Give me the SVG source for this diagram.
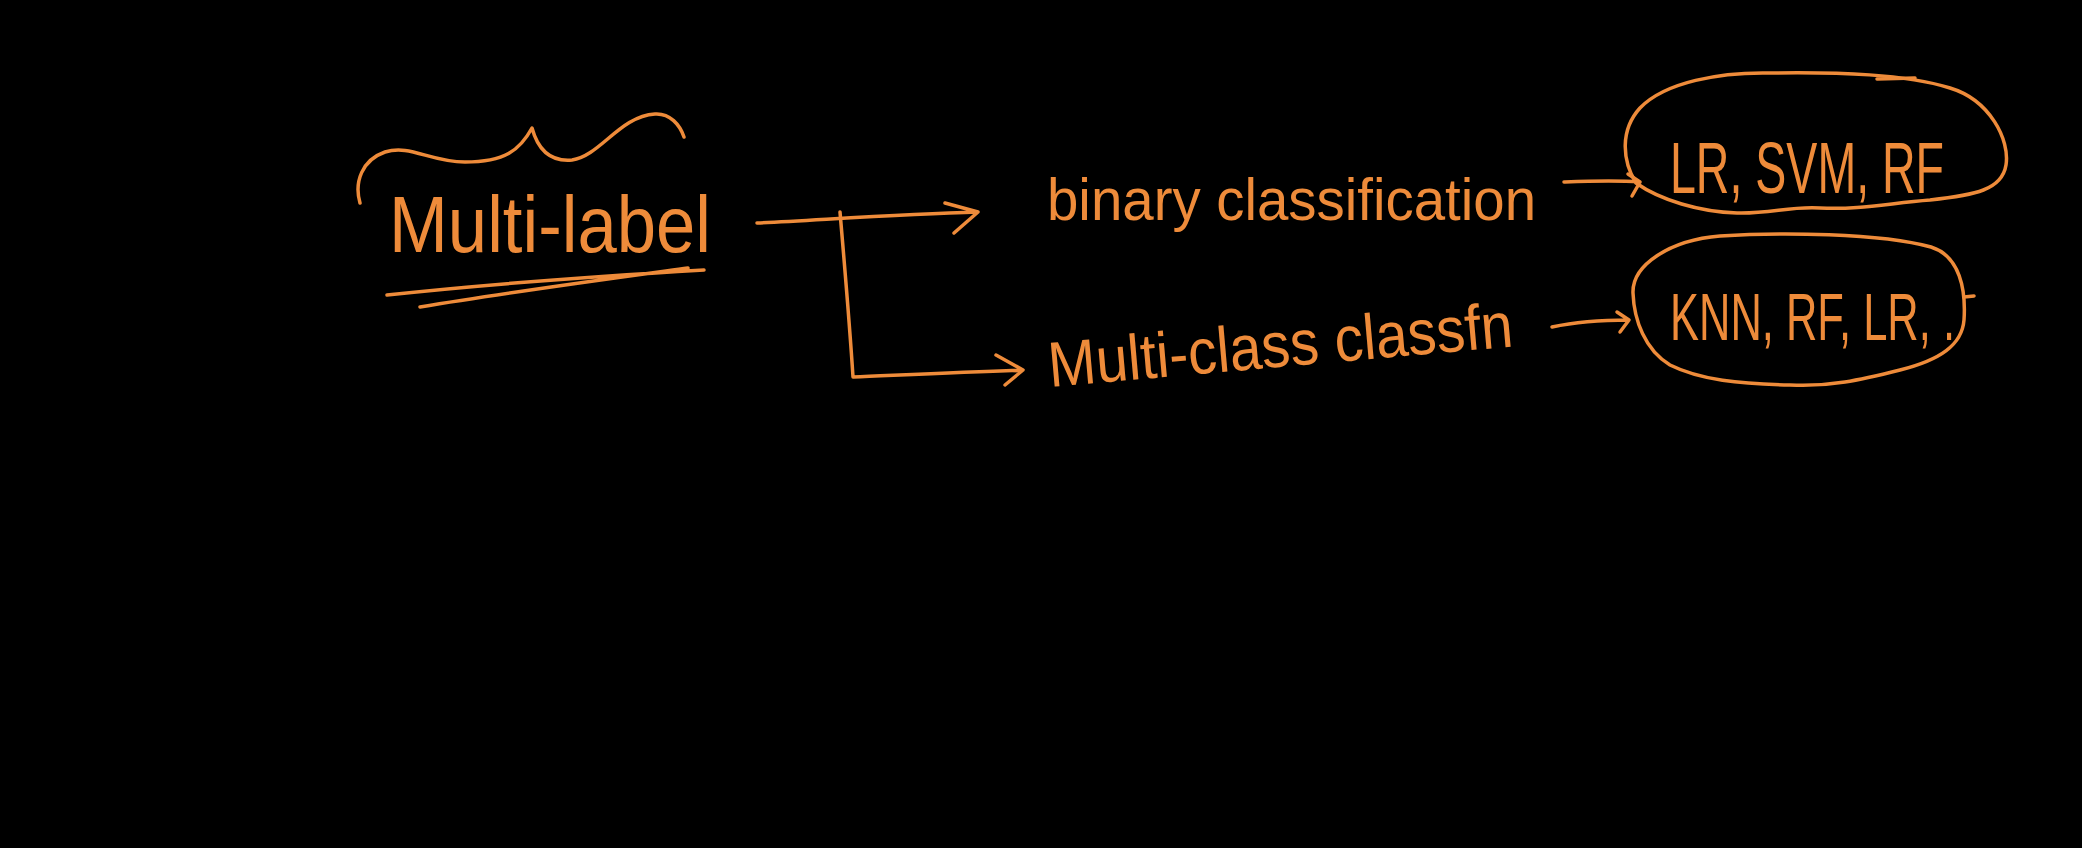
<svg xmlns="http://www.w3.org/2000/svg" width="2082" height="848" viewBox="0 0 2082 848">
<style>
.ink{fill:none;stroke:#EE8B3A;stroke-width:3.5;stroke-linecap:round;stroke-linejoin:round}
.hw{fill:#EE8B3A;font-family:"Liberation Sans","DejaVu Sans",sans-serif;font-weight:normal}
</style>
<rect x="0" y="0" width="2082" height="848" fill="#000"/>
<g id="node-multilabel">
<path class="ink" d="M360,203 C354,182 362,160 385,152 C410,144 430,162 465,162 C505,162 520,150 532,128 C538,150 550,162 572,160 C600,156 620,116 655,114 C670,113 680,125 684,137"/>
<text class="hw" x="389" y="252" font-size="80" textLength="322" lengthAdjust="spacingAndGlyphs">Multi-label</text>
<path class="ink" d="M387,295 C480,285 600,276 704,270 M420,307 C510,292 600,280 688,268"/>
</g>
<g id="node-binary">
<text class="hw" x="1047" y="220" font-size="60" textLength="489" lengthAdjust="spacingAndGlyphs">binary classification</text>
</g>
<g id="node-multiclass">
<text class="hw" x="1050" y="387" font-size="64" textLength="466" lengthAdjust="spacingAndGlyphs" transform="rotate(-5 1050 387)">Multi-class classfn</text>
</g>
<g id="node-lr-svm-rf">
<path class="ink" d="M1636,183 C1622,160 1620,130 1640,108 C1665,82 1720,72 1770,73 C1840,72 1905,74 1950,88 C1990,100 2010,140 2006,165 C2002,190 1975,195 1930,200 C1890,203 1860,210 1820,208 C1790,206 1770,214 1737,213 C1700,212 1660,200 1636,183 Z"/>
<path class="ink" d="M1877,79 L1915,78"/>
<text class="hw" x="1670" y="193" font-size="72" textLength="274" lengthAdjust="spacingAndGlyphs">LR, SVM, RF</text>
</g>
<g id="node-knn-rf-lr">
<path class="ink" d="M1633,293 C1632,265 1670,240 1720,236 C1780,232 1880,233 1931,247 C1960,256 1966,290 1964,320 C1962,345 1940,360 1900,370 C1860,380 1830,387 1790,385 C1740,384 1700,380 1670,365 C1645,350 1634,320 1633,293 Z"/>
<path class="ink" d="M1964,297 L1974,296"/>
<text class="hw" x="1670" y="340" font-size="66" textLength="285" lengthAdjust="spacingAndGlyphs">KNN, RF, LR, .</text>
</g>
<g id="connectors">
<path class="ink" d="M757,223 C820,220 900,214 978,212 M945,203 L978,212 L954,233"/>
<path class="ink" d="M840,212 C845,270 850,330 853,377 C900,375 960,372 1023,370 M996,355 L1023,370 L1005,385"/>
<path class="ink" d="M1564,182 C1590,181 1615,180 1640,182 M1628,174 L1640,182 L1632,196"/>
<path class="ink" d="M1552,327 C1575,322 1600,320 1629,320 M1617,312 L1629,320 L1620,332"/>
</g>
</svg>
